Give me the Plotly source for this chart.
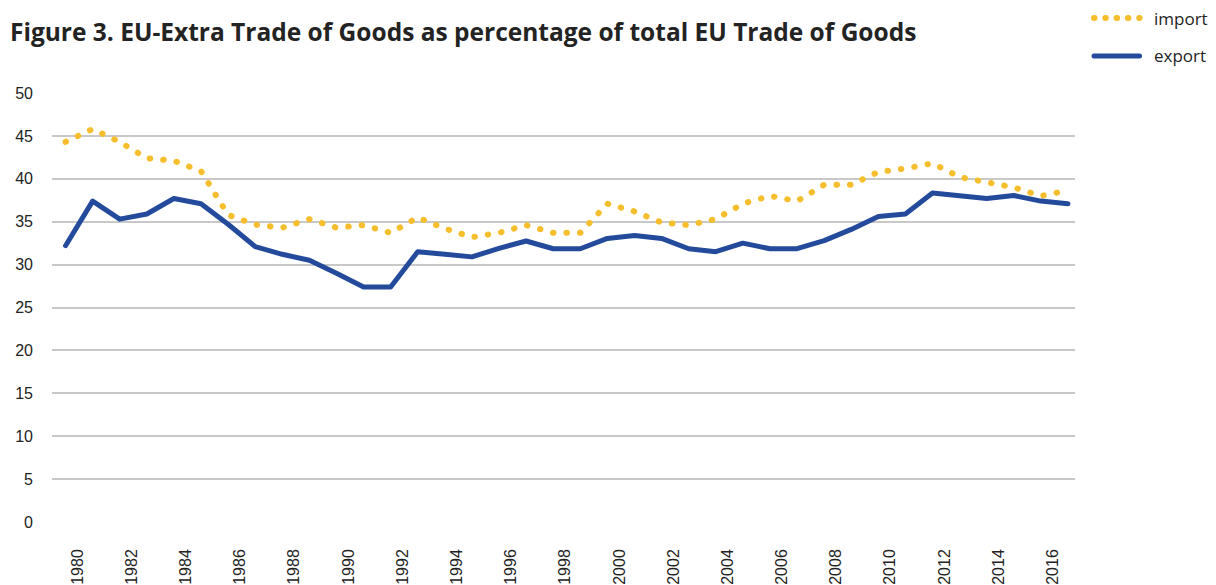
import plotly.graph_objects as go

# EU-Extra trade of goods, % of total EU trade of goods
years = list(range(1980, 2018))
export_share = [32.2, 37.4, 35.3, 35.9, 37.7, 37.1, 34.7, 32.1, 31.2, 30.5,
                29.0, 27.4, 27.4, 31.5, 31.2, 30.9, 31.9, 32.75, 31.85, 31.85,
                33.05, 33.4, 33.05, 31.85, 31.5, 32.5, 31.85, 31.85, 32.8, 34.1,
                35.6, 35.9, 38.35, 38.05, 37.7, 38.05, 37.4, 37.1]
import_share = [44.3, 45.8, 44.3, 42.4, 42.1, 40.9, 35.8, 34.65, 34.3, 35.3,
                34.3, 34.6, 33.7, 35.5, 34.2, 33.2, 33.7, 34.6, 33.7, 33.7,
                37.1, 36.2, 34.9, 34.6, 35.3, 37.1, 38.0, 37.4, 39.3, 39.3,
                40.8, 41.2, 41.8, 40.2, 39.6, 39.0, 38.0, 38.65]
x_tick_years = list(range(1980, 2017, 2))
y_ticks = [0, 5, 10, 15, 20, 25, 30, 35, 40, 45, 50]

BLUE = "#244B9B"
GOLD = "#F6BE2C"
TEXT = "#232323"

W, H = 1216, 585
L, R, T, B = 52, 141, 93, 63
pw, ph = W - L - R, H - T - B


def px_x(p):
    return (p - L) / pw


def px_y(p):
    return (H - B - p) / ph


fig = go.Figure()
fig.add_trace(go.Scatter(
    x=years, y=import_share, name="import", mode="lines",
    line=dict(color=GOLD, width=6, dash="0.5px,13px"),
    showlegend=False,
))
fig.add_trace(go.Scatter(
    x=years, y=export_share, name="export", mode="lines",
    line=dict(color=BLUE, width=5),
    showlegend=False,
))

# legend drawn as keyed samples in the top-right corner
legend_items = [("import", GOLD, 6, "0.5px,10.8px", 18),
                ("export", BLUE, 5, "solid", 56)]
for label, color, width, dash, ypx in legend_items:
    fig.add_shape(type="line", xref="paper", yref="paper",
                  x0=px_x(1094), x1=px_x(1139.5), y0=px_y(ypx), y1=px_y(ypx),
                  line=dict(color=color, width=width, dash=dash))
    fig.add_annotation(xref="paper", yref="paper", x=px_x(1152), y=px_y(ypx),
                       text=label, showarrow=False, xanchor="left",
                       yanchor="middle",
                       font=dict(family="Open Sans", size=17, color=TEXT))

fig.update_layout(
    width=W, height=H,
    margin=dict(l=L, r=R, t=T, b=B, autoexpand=False),
    paper_bgcolor="white", plot_bgcolor="white",
    title=dict(
        text="Figure 3. EU-Extra Trade of Goods as percentage of total EU Trade of Goods",
        x=10 / W, xanchor="left", xref="container",
        y=1 - 32 / H, yanchor="middle", yref="container",
        font=dict(family="Open Sans", size=24.5, weight=700, color=TEXT),
    ),
    xaxis=dict(
        range=[1979.5, 2017.26], tickmode="array", tickvals=x_tick_years,
        ticktext=[str(y) for y in x_tick_years], tickangle=-90,
        ticks="", showgrid=False, zeroline=False, showline=False,
        ticklabelshift=12, ticklabelstandoff=23, automargin=False,
        tickfont=dict(family="Liberation Sans", size=16, color=TEXT),
    ),
    yaxis=dict(
        range=[0, 50], tickmode="array", tickvals=y_ticks,
        showgrid=True, gridcolor="#c8c8c8", gridwidth=1.5,
        zeroline=False, showline=False, ticks="",
        ticklabelstandoff=18, automargin=False,
        tickfont=dict(family="Liberation Sans", size=16, color=TEXT),
    ),
)

round_caps = """
var s = document.createElement('style');
s.textContent = '.scatterlayer .js-line, .shapelayer path {stroke-linecap: round; stroke-linejoin: round;}';
document.head.appendChild(s);
"""

fig.write_html("out.html", post_script=round_caps)
